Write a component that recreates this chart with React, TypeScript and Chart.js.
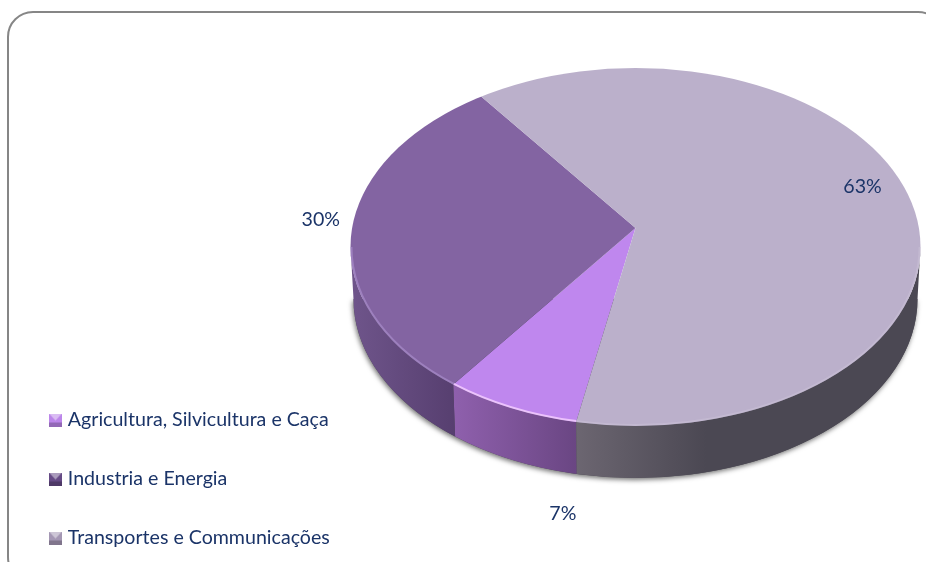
import React, { useEffect, useRef } from "react";
import Chart from "chart.js/auto";

const categories = ["Agricultura, Silvicultura e Caça", "Industria e Energia", "Transportes e Communicações"];
const shares = [7.49, 29.9, 62.6];
const topColors = ["#BF87EE", "#8364A2", "#BBB0CB"];
const rimColors = ["#F3CCFF", "#A88CCB", "#CBC2D8"];
const rimAlpha = [0.85, 0.7, 0.5];
const wallLeft = ["#8F60AD", "#6F558B", "#6C6671"];
const wallRight = ["#6A4683", "#573F70", "#4B4853"];
const keyColors = ["#BC86EA", "#654A85", "#A497B4"];
const labelNudges = [[50, 107], [-30, -1], [-53, -12]];

const FONT = "Lato";
const FONT_SIZE = 19.6;
const INK = "#1B3468";
const CX = 635.5, CY = 228, RX = 285, RY_TOP = 160, RY_BOT = 198;
const EY = 247, ERY = 179;
const DEPTH = 52, RX_WALL = 282;
const OVERSIZE = 1.2;

function makeKey(color: string) {
  const c = document.createElement("canvas");
  c.width = 13; c.height = 13;
  const g = c.getContext("2d")!;
  g.fillStyle = color; g.fillRect(0, 0, 13, 13);
  const poly = (pts: number[][], fill: string) => {
    g.beginPath(); pts.forEach((p, i) => (i ? g.lineTo(p[0], p[1]) : g.moveTo(p[0], p[1])));
    g.closePath(); g.fillStyle = fill; g.fill();
  };
  poly([[0, 0], [13, 0], [6.5, 7]], "rgba(255,255,255,0.45)");
  poly([[0, 13], [13, 13], [13, 9], [0, 9]], "rgba(0,0,0,0.22)");
  return c;
}

// where a slice edge (angle theta, seen from the off-centre apex) meets the rim ellipse
function rimParam(theta: number) {
  const s = Math.sin(theta);
  const u = Math.cos(theta);
  const v = ((s < 0 ? RY_TOP : RY_BOT) * s) / ERY;
  const v0 = (CY - EY) / ERY;
  const a = u * u + v * v, b = 2 * v0 * v, c = v0 * v0 - 1;
  const t = (-b + Math.sqrt(b * b - 4 * a * c)) / (2 * a);
  return Math.atan2(v0 + t * v, t * u);
}

function frontSpans(arc: any) {
  const spans: number[][] = [];
  for (const k of [0, 1]) {
    const base = k * 2 * Math.PI;
    const lo = Math.max(arc.startAngle, base);
    const hi = Math.min(arc.endAngle, base + Math.PI);
    if (hi <= lo) continue;
    spans.push([lo === base ? 0 : rimParam(lo), hi === base + Math.PI ? Math.PI : rimParam(hi)]);
  }
  return spans;
}

const piePlugin = {
  id: "tiltedPie",
  beforeDraw(chart: any) {
    const { ctx } = chart;
    ctx.save();
    ctx.beginPath();
    ctx.roundRect(8, 12, 935, 570, 25);
    ctx.lineWidth = 2;
    ctx.strokeStyle = "#868686";
    ctx.stroke();
    ctx.restore();
  },
  afterLayout(chart: any) {
    const l = chart.legend;
    l.left = 13.6; l.right = 926; l.top = 370.8; l.bottom = 720;
  },
  beforeDatasetsDraw(chart: any) {
    const { ctx } = chart;
    const arcs = chart.getDatasetMeta(0).data;
    // silhouette of the wall with a soft shadow
    ctx.save();
    ctx.shadowColor = "rgba(0,0,0,0.55)";
    ctx.shadowBlur = 5;
    ctx.shadowOffsetX = -1;
    ctx.shadowOffsetY = 2;
    ctx.fillStyle = "#4B4853";
    ctx.beginPath();
    ctx.ellipse(CX, EY + DEPTH, RX_WALL, ERY, 0, 0, Math.PI);
    ctx.closePath();
    ctx.fill();
    ctx.restore();
    // side wall of every slice, from the library's own angles
    arcs.forEach((arc: any, i: number) => {
      for (const [a, b] of frontSpans(arc)) {
        const x0 = CX + RX * Math.cos(b), x1 = CX + RX * Math.cos(a);
        const grad = ctx.createLinearGradient(x0, 0, i === 2 ? x0 + 130 : x1, 0);
        grad.addColorStop(0, wallLeft[i]);
        grad.addColorStop(1, wallRight[i]);
        ctx.beginPath();
        ctx.ellipse(CX, EY, RX, ERY, 0, a, b);
        ctx.ellipse(CX, EY + DEPTH, RX_WALL, ERY, 0, b, a, true);
        ctx.closePath();
        ctx.fillStyle = grad;
        ctx.fill();
      }
    });
    // top face: the arcs, projected onto the tilted plane and cut by the rim
    const halves = [
      { y: 0, h: CY, ry: RY_TOP },
      { y: CY, h: 562 - CY, ry: RY_BOT },
    ];
    ctx.save();
    ctx.beginPath();
    ctx.ellipse(CX, EY, RX, ERY, 0, 0, Math.PI * 2);
    ctx.clip();
    for (const half of halves) {
      ctx.save();
      ctx.beginPath();
      ctx.rect(0, half.y, 926, half.h);
      ctx.clip();
      arcs.forEach((arc: any) => {
        ctx.save();
        ctx.translate(CX, CY);
        ctx.scale((OVERSIZE * RX) / arc.outerRadius, (OVERSIZE * half.ry) / arc.outerRadius);
        ctx.translate(-arc.x, -arc.y);
        arc.draw(ctx);
        ctx.restore();
      });
      ctx.restore();
    }
    ctx.restore();
    // bevel along the front rim
    arcs.forEach((arc: any, i: number) => {
      for (const [a, b] of frontSpans(arc)) {
        ctx.save();
        ctx.beginPath();
        ctx.ellipse(CX, EY, RX - 1, ERY - 1, 0, a, b);
        ctx.strokeStyle = rimColors[i];
        ctx.globalAlpha = rimAlpha[i];
        ctx.lineWidth = 2;
        ctx.stroke();
        ctx.restore();
      }
    });
    // percentage labels
    ctx.save();
    ctx.font = `${FONT_SIZE}px ${FONT}`;
    ctx.fillStyle = INK;
    ctx.textAlign = "center";
    ctx.textBaseline = "middle";
    arcs.forEach((arc: any, i: number) => {
      const mid = (arc.startAngle + arc.endAngle) / 2;
      const s = Math.sin(mid);
      const x = CX + RX * Math.cos(mid) + labelNudges[i][0];
      const y = CY + (s < 0 ? RY_TOP : RY_BOT) * s + labelNudges[i][1];
      ctx.fillText(`${Math.round(shares[i])}%`, x, y);
    });
    ctx.restore();
    return false;
  },
};

export default function App() {
  const ref = useRef<HTMLCanvasElement>(null);
  useEffect(() => {
    const keys = keyColors.map(makeKey);
    const chart = new Chart(ref.current!, {
      type: "pie",
      data: {
        labels: categories,
        datasets: [{ data: shares, backgroundColor: topColors, borderWidth: 0 }],
      },
      options: {
        responsive: false,
        devicePixelRatio: 1,
        animation: false,
        rotation: 192,
        plugins: {
          tooltip: { enabled: false },
          legend: {
            position: "left",
            align: "start",
            labels: {
              usePointStyle: true,
              boxWidth: 5,
              pointStyleWidth: 5,
              padding: 39.4,
              color: INK,
              font: { family: FONT, size: FONT_SIZE },
              generateLabels: () =>
                categories.map((text, i) => ({
                  text,
                  fontColor: INK,
                  pointStyle: keys[i] as any,
                  hidden: false,
                  index: i,
                  lineWidth: 0,
                  fillStyle: keyColors[i],
                  strokeStyle: "transparent",
                })),
            },
          },
        },
      } as any,
      plugins: [piePlugin as any],
    });
    return () => chart.destroy();
  }, []);
  return (
    <div style={{ position: "absolute", left: 0, top: 0, width: 926, height: 562, overflow: "hidden", background: "#fff" }}>
      <canvas ref={ref} width={926} height={562} style={{ display: "block" }} />
    </div>
  );
}
